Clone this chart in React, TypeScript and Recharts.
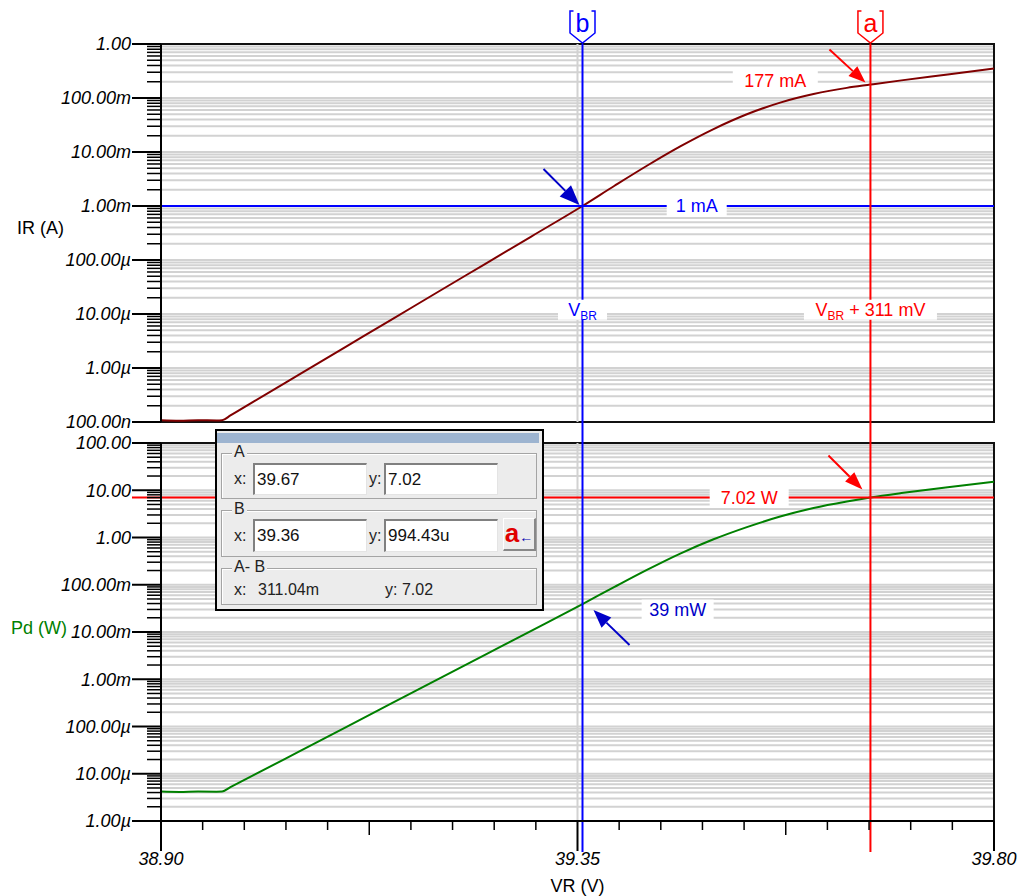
import React from "react";
import {
  LineChart, Line, XAxis, YAxis, CartesianGrid, ReferenceLine, ReferenceArea, ReferenceDot,
} from "recharts";

// sweep points: reverse voltage (V), current (A), dissipated power (W)
const VR = [38.9, 38.92, 38.94, 38.96, 38.966, 38.975, 39.0, 39.05, 39.1, 39.15, 39.2, 39.25, 39.3, 39.3554, 39.39, 39.425, 39.461, 39.497, 39.533, 39.569, 39.605, 39.641, 39.6665, 39.7, 39.75, 39.8];
const IR = [1.08e-7, 1.06e-7, 1.08e-7, 1.07e-7, 1.08e-7, 1.32e-7, 2.38e-7, 7.7e-7, 2.49e-6, 8.05e-6, 2.61e-5, 8.42e-5, 2.72e-4, 1.0e-3, 2.37e-3, 5.56e-3, 1.27e-2, 2.66e-2, 5.0e-2, 8.22e-2, 0.1183, 0.154, 0.177, 0.212, 0.273, 0.352];
const PD = [4.2e-6, 4.12e-6, 4.2e-6, 4.17e-6, 4.2e-6, 5.19e-6, 9.31e-6, 3.01e-5, 9.73e-5, 3.15e-4, 1.02e-3, 3.29e-3, 1.06e-2, 3.9e-2, 0.09, 0.206, 0.457, 0.916, 1.66, 2.78, 4.21, 5.78, 7.02, 8.71, 11.6, 15.1];

const X_DOMAIN = [38.9, 39.8];
const X_TICKS = [38.9, 38.945, 38.99, 39.035, 39.08, 39.125, 39.17, 39.215, 39.26, 39.305, 39.35, 39.395, 39.44, 39.485, 39.53, 39.575, 39.62, 39.665, 39.71, 39.755, 39.8];
const X_MAJOR = [38.9, 39.35, 39.8];
const X_MAJOR_LABELS = ["38.90", "39.35", "39.80"];
const X_MID = [39.125, 39.575];

const IR_DECADES = [1e-7, 1e-6, 1e-5, 1e-4, 1e-3, 1e-2, 1e-1, 1];
const IR_LABELS = ["100.00n", "1.00µ", "10.00µ", "100.00µ", "1.00m", "10.00m", "100.00m", "1.00"];
const PD_DECADES = [1e-6, 1e-5, 1e-4, 1e-3, 1e-2, 1e-1, 1, 10, 100];
const PD_LABELS = ["1.00µ", "10.00µ", "100.00µ", "1.00m", "10.00m", "100.00m", "1.00", "10.00", "100.00"];

// cursors
const CURSOR_B = 39.3554;
const CURSOR_A = 39.6665;
const IR_AT_B = 1e-3;
const IR_AT_A = 0.177;
const PD_AT_B = 0.039;
const PD_AT_A = 7.02;

const rows = VR.map((v, i) => ({ vr: v, ir: IR[i], pd: PD[i] }));

const logTicks = (decades: number[]) =>
  decades.flatMap((d, i) =>
    i === decades.length - 1 ? [d] : [1, 2, 3, 4, 5, 6, 7, 8, 9].map((m) => m * d)
  );

const BLUE = "#0000ff";
const DARK_BLUE = "#0000c8";
const RED = "#ff0000";
const GRID = "#d2d2d2";
const FONT = '"Liberation Sans", Arial, sans-serif';

function makeYTick(decades: number[], labels: string[]) {
  return (p: any) => {
    const v = p.payload.value;
    const i = decades.findIndex((d) => Math.abs(v / d - 1) < 1e-6);
    if (i < 0) {
      return <line x1={p.x - 14} y1={p.y} x2={p.x} y2={p.y} stroke="#000" strokeWidth={1.5} />;
    }
    return (
      <g>
        <line x1={p.x - 29} y1={p.y} x2={p.x} y2={p.y} stroke="#000" strokeWidth={2} />
        <text x={p.x - 30} y={p.y} dy="0.35em" textAnchor="end" fontSize={18} fontStyle="italic" fill="#000">
          {labels[i]}
        </text>
      </g>
    );
  };
}

function XTick(p: any) {
  const v = p.payload.value;
  const major = X_MAJOR.findIndex((m) => Math.abs(m - v) < 1e-6);
  const mid = X_MID.some((m) => Math.abs(m - v) < 1e-6);
  const len = major >= 0 ? 30 : mid ? 14 : 9;
  return (
    <g>
      <line x1={p.x} y1={p.y} x2={p.x} y2={p.y + len} stroke="#000" strokeWidth={major >= 0 ? 2 : 1.5} />
      {major >= 0 && (
        <text x={p.x} y={p.y + 44} textAnchor="middle" fontSize={18} fontStyle="italic" fill="#000">
          {X_MAJOR_LABELS[major]}
        </text>
      )}
    </g>
  );
}

// horizontal cursor line runs across the tick area too
const hCursor = (color: string) => (p: any) => (
  <line x1={p.x1 - 29} y1={p.y1} x2={p.x2} y2={p.y2} stroke={color} strokeWidth={2} />
);

// vertical cursor, optionally with the flag on top
const vCursor = (color: string, tail: number, name?: string) => (p: any) => {
  const x = p.x1;
  const top = Math.min(p.y1, p.y2);
  const bot = Math.max(p.y1, p.y2);
  return (
    <g>
      <line x1={x} y1={top} x2={x} y2={bot + tail} stroke={color} strokeWidth={2} />
      {name && (
        <g>
          <path
            d={`M${x - 9},${top - 33} H${x - 12.5} V${top - 11} L${x},${top - 1} L${x + 12.5},${top - 11} V${top - 33} H${x + 9}`}
            fill="none" stroke={color} strokeWidth={1.5}
          />
          <text x={x} y={top - 12} textAnchor="middle" fontSize={25} fill={color}>{name}</text>
        </g>
      )}
    </g>
  );
};

const arrow = (color: string, tail: number[], tip: number[], len: number, half: number) => (p: any) => {
  const tx = p.cx + tail[0], ty = p.cy + tail[1];
  const hx = p.cx + tip[0], hy = p.cy + tip[1];
  const d = Math.hypot(hx - tx, hy - ty);
  const ux = (hx - tx) / d, uy = (hy - ty) / d;
  const bx = hx - ux * len, by = hy - uy * len;
  return (
    <g>
      <line x1={tx} y1={ty} x2={bx} y2={by} stroke={color} strokeWidth={2} />
      <polygon
        points={`${hx},${hy} ${bx - uy * half},${by + ux * half} ${bx + uy * half},${by - ux * half}`}
        fill={color}
      />
    </g>
  );
};

const boxLabel = (content: React.ReactNode, color: string, w: number) => (p: any) => (
  <g>
    <rect x={p.cx - w / 2} y={p.cy - 10} width={w} height={20} fill="#fff" />
    <text x={p.cx} y={p.cy} dy="0.35em" textAnchor="middle" fontSize={18} fill={color}>{content}</text>
  </g>
);

const vbr = (rest?: string) => (
  <>
    <tspan>V</tspan>
    <tspan fontSize={12} dy={4}>BR</tspan>
    {rest && <tspan dy={-4}>{rest}</tspan>}
  </>
);

function TopPanel() {
  return (
    <LineChart width={1033} height={896} data={rows} margin={{ top: 44, right: 39, bottom: 474, left: 0 }}>
      <CartesianGrid vertical={false} stroke={GRID} strokeWidth={2} />
      <XAxis type="number" dataKey="vr" domain={X_DOMAIN} allowDataOverflow hide />
      <YAxis
        type="number" scale="log" domain={[1e-7, 1]} allowDataOverflow width={161}
        ticks={logTicks(IR_DECADES)} interval={0} tickSize={0} tickMargin={0} tickLine={false}
        tick={makeYTick(IR_DECADES, IR_LABELS)}
        axisLine={{ stroke: "#000", strokeWidth: 2 }}
        label={{ value: "IR (A)", position: "insideLeft", offset: 17, dy: -5, fontSize: 18, fill: "#000" }}
      />
      <ReferenceLine x={39.35} stroke={GRID} strokeWidth={2} />
      <ReferenceArea x1={38.9} x2={39.8} y1={1e-7} y2={1} fill="none" stroke="#111" strokeWidth={2} />
      <Line type="monotone" dataKey="ir" stroke="#800000" strokeWidth={2} dot={false} isAnimationActive={false} />
      <ReferenceLine y={IR_AT_B} shape={hCursor(BLUE)} />
      <ReferenceLine x={CURSOR_B} shape={vCursor(BLUE, 21, "b")} />
      <ReferenceLine x={CURSOR_A} shape={vCursor(RED, 21, "a")} />
      <ReferenceDot x={CURSOR_B} y={IR_AT_B} r={0} shape={arrow(DARK_BLUE, [-39, -37], [-3, -1], 20, 8)} />
      <ReferenceDot x={CURSOR_A} y={IR_AT_A} r={0} shape={arrow(RED, [-41, -35], [-5, -2], 17, 6.5)} />
      <ReferenceDot x={39.5637} y={0.2065} r={0} shape={boxLabel("177 mA", RED, 85)} />
      <ReferenceDot x={39.4788} y={IR_AT_B} r={0} shape={boxLabel("1 mA", BLUE, 60)} />
      <ReferenceDot x={CURSOR_B} y={1.2e-5} r={0} shape={boxLabel(vbr(), BLUE, 49)} />
      <ReferenceDot x={CURSOR_A} y={1.2e-5} r={0} shape={boxLabel(vbr(" + 311 mV"), RED, 133)} />
    </LineChart>
  );
}

function BottomPanel() {
  return (
    <LineChart width={1033} height={896} data={rows} margin={{ top: 443, right: 39, bottom: 0, left: 0 }}>
      <CartesianGrid vertical={false} stroke={GRID} strokeWidth={2} />
      <XAxis
        type="number" dataKey="vr" domain={X_DOMAIN} allowDataOverflow height={75}
        ticks={X_TICKS} interval={0} tickSize={0} tickMargin={0} tickLine={false} tick={XTick}
        axisLine={{ stroke: "#000", strokeWidth: 2 }}
        label={{ value: "VR (V)", position: "insideBottom", offset: 4, fontSize: 18, fill: "#000" }}
      />
      <YAxis
        type="number" scale="log" domain={[1e-6, 100]} allowDataOverflow width={161}
        ticks={logTicks(PD_DECADES)} interval={0} tickSize={0} tickMargin={0} tickLine={false}
        tick={makeYTick(PD_DECADES, PD_LABELS)}
        axisLine={{ stroke: "#000", strokeWidth: 2 }}
        label={{ value: "Pd (W)", position: "insideLeft", offset: 11, dy: -4, fontSize: 18, fill: "#008000" }}
      />
      <ReferenceLine x={39.35} stroke={GRID} strokeWidth={2} />
      <ReferenceArea x1={38.9} x2={39.8} y1={1e-6} y2={100} fill="none" stroke="#111" strokeWidth={2} />
      <Line type="monotone" dataKey="pd" stroke="#008000" strokeWidth={2} dot={false} isAnimationActive={false} />
      <ReferenceLine y={PD_AT_A} shape={hCursor(RED)} />
      <ReferenceLine x={CURSOR_B} shape={vCursor(BLUE, 31)} />
      <ReferenceLine x={CURSOR_A} shape={vCursor(RED, 31)} />
      <ReferenceDot x={CURSOR_A} y={PD_AT_A} r={0} shape={arrow(RED, [-42, -42], [-8, -8], 18, 6.5)} />
      <ReferenceDot x={CURSOR_B} y={PD_AT_B} r={0} shape={arrow(DARK_BLUE, [47, 41], [11, 6], 18, 7)} />
      <ReferenceDot x={39.5355} y={PD_AT_A} r={0} shape={boxLabel("7.02 W", RED, 79)} />
      <ReferenceDot x={39.4582} y={0.0299} r={0} shape={boxLabel("39 mW", DARK_BLUE, 72)} />
    </LineChart>
  );
}

const abs = (left: number, top: number, width?: number, height?: number): React.CSSProperties => ({
  position: "absolute", left, top, width, height, boxSizing: "border-box",
});

function Field({ left, top, h, value }: { left: number; top: number; h: number; value: string }) {
  return (
    <div
      style={{
        ...abs(left, top, 114, h), background: "#fff",
        borderTop: "2px solid #808080", borderLeft: "2px solid #808080",
        borderBottom: "1px solid #e4e4e4", borderRight: "1px solid #e4e4e4",
        paddingLeft: 2, lineHeight: `${h - 3}px`, fontSize: 17, color: "#111",
      }}
    >
      {value}
    </div>
  );
}

function Group({ top, h, title }: { top: number; h: number; title: string }) {
  return (
    <>
      <div style={{ ...abs(4, top, 316, h), border: "1px solid #a4a4a4", boxShadow: "inset 1px 1px 0 #fff" }} />
      <div style={{ ...abs(15, top - 10), lineHeight: "18px", padding: "0 2px", background: "#ececec", fontSize: 16 }}>
        {title}
      </div>
    </>
  );
}

const Small = ({ left, top, text }: { left: number; top: number; text: string }) => (
  <div style={{ ...abs(left, top), lineHeight: "18px", fontSize: 16, color: "#222" }}>{text}</div>
);

function CursorDialog() {
  return (
    <div style={{ ...abs(215, 429, 329, 182), border: "2px solid #000", background: "#ececec", fontFamily: FONT, color: "#222" }}>
      <div style={{ ...abs(0, 2, 322, 10), background: "#9db4d0" }} />
      <Group top={22} h={46} title="A" />
      <Small left={17} top={39} text="x:" />
      <Field left={36} top={32} h={32} value="39.67" />
      <Small left={152} top={39} text="y:" />
      <Field left={167} top={32} h={32} value="7.02" />
      <Group top={79} h={47} title="B" />
      <Small left={17} top={96} text="x:" />
      <Field left={36} top={88} h={33} value="39.36" />
      <Small left={152} top={96} text="y:" />
      <Field left={167} top={88} h={33} value="994.43u" />
      <div
        style={{
          ...abs(286, 87, 33, 33), background: "#ececec",
          borderTop: "1px solid #fff", borderLeft: "1px solid #fff",
          borderBottom: "2px solid #888", borderRight: "2px solid #888",
          textAlign: "center", lineHeight: "28px",
        }}
      >
        <span style={{ color: "#e00000", fontSize: 26, fontWeight: "bold" }}>a</span>
        <span style={{ color: "#0000b0", fontSize: 14 }}>←</span>
      </div>
      <Group top={137} h={37} title="A- B" />
      <Small left={17} top={150} text="x:" />
      <Small left={41} top={150} text="311.04m" />
      <Small left={168} top={150} text="y: 7.02" />
    </div>
  );
}

export default function App() {
  return (
    <div style={{ ...abs(0, 0, 1033, 896), background: "#fff", fontFamily: FONT }}>
      <div style={{ ...abs(0, 0, 1033, 896), zIndex: 1 }}>
        <BottomPanel />
      </div>
      <div style={{ ...abs(0, 0, 1033, 896), zIndex: 2 }}>
        <TopPanel />
      </div>
      <div style={{ ...abs(0, 0), zIndex: 3 }}>
        <CursorDialog />
      </div>
    </div>
  );
}
